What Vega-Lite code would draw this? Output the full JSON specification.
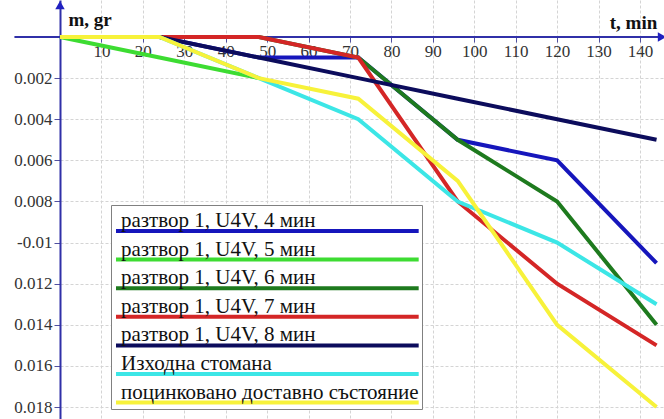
{
  "$schema": "https://vega.github.io/schema/vega-lite/v6.json",
  "width": 604,
  "height": 419,
  "autosize": {"type": "none"},
  "padding": {"left": 60, "top": 0, "right": 0, "bottom": 0},
  "background": "white",
  "config": {"view": {"stroke": null}, "font": "Liberation Serif"},
  "layer": [
    {
      "data": {"values": [{}]},
      "mark": {"type": "rule", "color": "#3030a8", "strokeWidth": 2, "clip": false},
      "encoding": {
        "x": {"datum": -11, "type": "quantitative"},
        "x2": {"datum": 145},
        "y": {"datum": 0, "type": "quantitative"}
      }
    },
    {
      "data": {
        "values": [
          {"series": "разтвор 1, U4V, 4 мин", "t": 0, "m": 0},
          {"series": "разтвор 1, U4V, 4 мин", "t": 24, "m": 0},
          {"series": "разтвор 1, U4V, 4 мин", "t": 48, "m": -0.001},
          {"series": "разтвор 1, U4V, 4 мин", "t": 72, "m": -0.001},
          {"series": "разтвор 1, U4V, 4 мин", "t": 96, "m": -0.005},
          {"series": "разтвор 1, U4V, 4 мин", "t": 120, "m": -0.006},
          {"series": "разтвор 1, U4V, 4 мин", "t": 144, "m": -0.011},
          {"series": "разтвор 1, U4V, 5 мин", "t": 0, "m": 0},
          {"series": "разтвор 1, U4V, 5 мин", "t": 24, "m": -0.001},
          {"series": "разтвор 1, U4V, 5 мин", "t": 48, "m": -0.002},
          {"series": "разтвор 1, U4V, 6 мин", "t": 0, "m": 0},
          {"series": "разтвор 1, U4V, 6 мин", "t": 24, "m": 0},
          {"series": "разтвор 1, U4V, 6 мин", "t": 48, "m": 0},
          {"series": "разтвор 1, U4V, 6 мин", "t": 72, "m": -0.001},
          {"series": "разтвор 1, U4V, 6 мин", "t": 96, "m": -0.005},
          {"series": "разтвор 1, U4V, 6 мин", "t": 120, "m": -0.008},
          {"series": "разтвор 1, U4V, 6 мин", "t": 144, "m": -0.014},
          {"series": "разтвор 1, U4V, 7 мин", "t": 0, "m": 0},
          {"series": "разтвор 1, U4V, 7 мин", "t": 24, "m": 0},
          {"series": "разтвор 1, U4V, 7 мин", "t": 48, "m": 0},
          {"series": "разтвор 1, U4V, 7 мин", "t": 72, "m": -0.001},
          {"series": "разтвор 1, U4V, 7 мин", "t": 96, "m": -0.008},
          {"series": "разтвор 1, U4V, 7 мин", "t": 120, "m": -0.012},
          {"series": "разтвор 1, U4V, 7 мин", "t": 144, "m": -0.015},
          {"series": "разтвор 1, U4V, 8 мин", "t": 0, "m": 0},
          {"series": "разтвор 1, U4V, 8 мин", "t": 24, "m": 0},
          {"series": "разтвор 1, U4V, 8 мин", "t": 48, "m": -0.001},
          {"series": "разтвор 1, U4V, 8 мин", "t": 72, "m": -0.002},
          {"series": "разтвор 1, U4V, 8 мин", "t": 96, "m": -0.003},
          {"series": "разтвор 1, U4V, 8 мин", "t": 120, "m": -0.004},
          {"series": "разтвор 1, U4V, 8 мин", "t": 144, "m": -0.005},
          {"series": "Изходна стомана", "t": 0, "m": 0},
          {"series": "Изходна стомана", "t": 24, "m": 0},
          {"series": "Изходна стомана", "t": 48, "m": -0.002},
          {"series": "Изходна стомана", "t": 72, "m": -0.004},
          {"series": "Изходна стомана", "t": 96, "m": -0.008},
          {"series": "Изходна стомана", "t": 120, "m": -0.010},
          {"series": "Изходна стомана", "t": 144, "m": -0.013},
          {"series": "поцинковано доставно състояние", "t": 0, "m": 0},
          {"series": "поцинковано доставно състояние", "t": 24, "m": 0},
          {"series": "поцинковано доставно състояние", "t": 48, "m": -0.002},
          {"series": "поцинковано доставно състояние", "t": 72, "m": -0.003},
          {"series": "поцинковано доставно състояние", "t": 96, "m": -0.007},
          {"series": "поцинковано доставно състояние", "t": 120, "m": -0.014},
          {"series": "поцинковано доставно състояние", "t": 144, "m": -0.018}
        ]
      },
      "mark": {"type": "line", "strokeWidth": 4},
      "encoding": {
        "x": {
          "field": "t", "type": "quantitative",
          "scale": {"domain": [0, 145.8], "nice": false, "zero": false},
          "axis": {
            "orient": "bottom", "offset": -382,
            "values": [10, 20, 30, 40, 50, 60, 70, 80, 90, 100, 110, 120, 130, 140],
            "grid": true, "gridColor": "#d4d4d4", "gridDash": [3, 2],
            "domain": false, "ticks": true, "tickColor": "#5050a0", "tickSize": 5,
            "labelFont": "Liberation Serif", "labelFontSize": 17, "labelColor": "#333333", "labelPadding": 1,
            "title": "t, min", "titleFont": "Liberation Serif", "titleFontSize": 19, "titleFontWeight": "bold",
            "titleColor": "#111111", "titleX": 573, "titleY": -9, "titleAlign": "center", "titleBaseline": "alphabetic"
          }
        },
        "y": {
          "field": "m", "type": "quantitative",
          "scale": {"domain": [-0.01858, 0.0018], "nice": false, "zero": false},
          "axis": {
            "orient": "left",
            "values": [0, -0.002, -0.004, -0.006, -0.008, -0.01, -0.012, -0.014, -0.016, -0.018],
            "labelExpr": "datum.value == 0 ? '' : (abs(datum.value + 0.01) < 0.0001 ? '-0.01' : format(-datum.value, '.3f'))",
            "grid": true, "gridColor": "#d4d4d4", "gridDash": [3, 2],
            "domain": true, "domainColor": "#3030a8", "domainWidth": 2,
            "ticks": true, "tickColor": "#5050a0", "tickSize": 6,
            "labelFont": "Liberation Serif", "labelFontSize": 17, "labelColor": "#333333", "labelPadding": 2,
            "title": "m, gr", "titleFont": "Liberation Serif", "titleFontSize": 19, "titleFontWeight": "bold",
            "titleColor": "#111111", "titleAngle": 0, "titleX": 8, "titleY": 25, "titleAlign": "left", "titleBaseline": "alphabetic"
          }
        },
        "color": {
          "field": "series", "type": "nominal",
          "scale": {
            "domain": ["разтвор 1, U4V, 4 мин", "разтвор 1, U4V, 5 мин", "разтвор 1, U4V, 6 мин", "разтвор 1, U4V, 7 мин", "разтвор 1, U4V, 8 мин", "Изходна стомана", "поцинковано доставно състояние"],
            "range": ["#1616bc", "#3ddc32", "#1e7a1e", "#d42626", "#0c0c5c", "#3ce6e6", "#f7f23a"]
          },
          "legend": {
            "orient": "none", "legendX": 51, "legendY": 205,
            "title": " ", "titleFontSize": 1, "titlePadding": 19,
            "symbolType": "stroke", "symbolSize": 93025, "symbolStrokeWidth": 4,
            "clipHeight": 6,
            "labelOffset": -302, "labelBaseline": "bottom", "labelLimit": 0,
            "labelFont": "Liberation Serif", "labelFontSize": 21, "labelColor": "#111111",
            "rowPadding": 4.6, "padding": 3,
            "strokeColor": "#808080", "fillColor": "white"
          }
        }
      }
    },
    {
      "data": {"values": [{}]},
      "mark": {"type": "point", "shape": "triangle-up", "filled": true, "size": 90, "color": "#2020c0", "opacity": 1, "clip": false},
      "encoding": {
        "x": {"datum": 0, "type": "quantitative"},
        "y": {"datum": 0.00155, "type": "quantitative"}
      }
    },
    {
      "data": {"values": [{}]},
      "mark": {"type": "point", "shape": "triangle-right", "filled": true, "size": 90, "color": "#2020c0", "opacity": 1, "clip": false},
      "encoding": {
        "x": {"datum": 145.3, "type": "quantitative"},
        "y": {"datum": 0, "type": "quantitative"}
      }
    }
  ]
}
